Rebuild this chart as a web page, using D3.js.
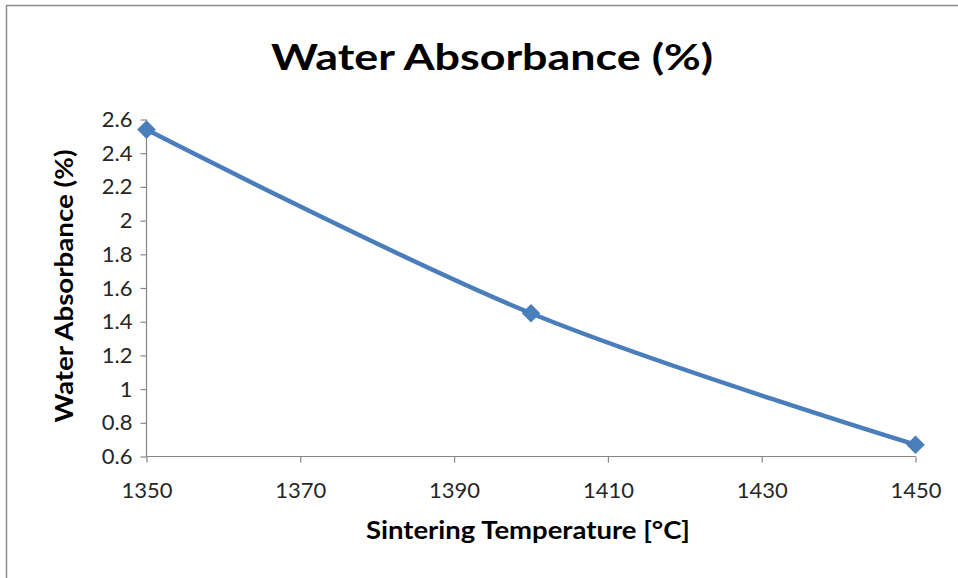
<!DOCTYPE html>
<html>
<head>
<meta charset="utf-8">
<script src="https://cdn.jsdelivr.net/npm/d3@7"></script>
<style>
  body { margin: 0; background: #fff; }
  svg { display: block; font-family: Lato, "Open Sans", sans-serif; }
</style>
</head>
<body>
<div id="chart"></div>
<script>
const temperatures = [1350, 1400, 1450];
const absorbance = [2.54, 1.45, 0.67];
const xTicks = [1350, 1370, 1390, 1410, 1430, 1450];
const yTicks = [0.6, 0.8, 1, 1.2, 1.4, 1.6, 1.8, 2, 2.2, 2.4, 2.6];

const width = 958;
const height = 578;
const blue = '#4A7EBB';
const axisGrey = '#868686';

const x = d3.scaleLinear().domain([1350, 1450]).range([146.5, 915.5]);
const y = d3.scaleLinear().domain([0.6, 2.6]).range([456.5, 119.5]);

const svg = d3.select('#chart').append('svg')
    .attr('width', width)
    .attr('height', height);

// chart frame
svg.append('rect')
    .attr('x', 6.5).attr('y', 5.5)
    .attr('width', width + 20).attr('height', height + 20)
    .attr('fill', 'none')
    .attr('stroke', '#8c8c8c')
    .attr('stroke-width', 1.5);

svg.append('text')
    .attr('x', 492).attr('y', 70)
    .attr('text-anchor', 'middle')
    .attr('font-size', 37).attr('font-weight', 'bold')
    .attr('textLength', 442).attr('lengthAdjust', 'spacingAndGlyphs')
    .text('Water Absorbance (%)');

// y axis
const yAxis = svg.append('g')
    .attr('transform', `translate(${x.range()[0]},0)`)
    .call(d3.axisLeft(y).tickValues(yTicks).tickSize(6).tickPadding(8).tickFormat(d3.format('~g')));

// x axis
const xAxis = svg.append('g')
    .attr('transform', `translate(0,${y.range()[0]})`)
    .call(d3.axisBottom(x).tickValues(xTicks).tickSize(6).tickPadding(20).tickFormat(d3.format('d')));

[yAxis, xAxis].forEach(g => {
  g.select('.domain').attr('stroke', axisGrey).attr('stroke-width', 1.2);
  g.selectAll('.tick line').attr('stroke', axisGrey).attr('stroke-width', 1.2);
  g.selectAll('.tick text')
      .attr('fill', '#262626')
      .attr('font-size', 22)
      .attr('font-family', 'Lato, "Open Sans", sans-serif');
});
xAxis.select('.domain').attr('d', `M${x.range()[0]},0H${x.range()[1]}`);
yAxis.select('.domain').attr('d', `M0,${y.range()[0]}V${y.range()[1]}`);

svg.append('text')
    .attr('transform', 'translate(73,286) rotate(-90)')
    .attr('text-anchor', 'middle')
    .attr('font-size', 24).attr('font-weight', 'bold')
    .attr('textLength', 273).attr('lengthAdjust', 'spacingAndGlyphs')
    .text('Water Absorbance (%)');

svg.append('text')
    .attr('x', 528).attr('y', 539)
    .attr('text-anchor', 'middle')
    .attr('font-size', 24).attr('font-weight', 'bold')
    .attr('textLength', 324).attr('lengthAdjust', 'spacingAndGlyphs')
    .text('Sintering Temperature [°C]');

const points = temperatures.map((t, i) => [t, absorbance[i]]);

const line = d3.line()
    .x(d => x(d[0]))
    .y(d => y(d[1]))
    .curve(d3.curveCatmullRom.alpha(0));

svg.append('path')
    .datum(points)
    .attr('d', line)
    .attr('fill', 'none')
    .attr('stroke', blue)
    .attr('stroke-width', 4.5)
    .attr('stroke-linecap', 'round');

svg.selectAll('.marker')
    .data(points)
  .enter().append('path')
    .attr('class', 'marker')
    .attr('transform', d => `translate(${x(d[0])},${y(d[1])})`)
    .attr('d', d3.symbol(d3.symbolDiamond2, 220))
    .attr('fill', blue);
</script>
</body>
</html>
